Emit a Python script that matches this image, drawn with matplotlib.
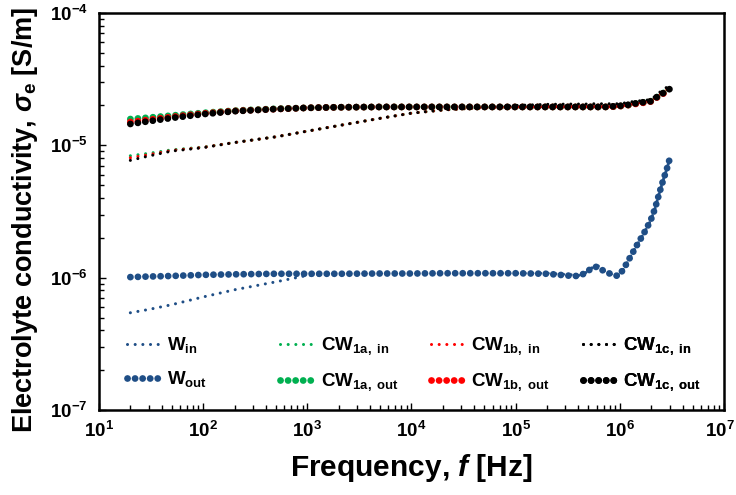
import numpy as np
import matplotlib
matplotlib.use("Agg")
import matplotlib.pyplot as plt
from matplotlib.ticker import LogLocator, FuncFormatter, NullFormatter, FixedLocator

plt.rcParams["font.family"] = ["Liberation Sans", "DejaVu Sans"]
plt.rcParams["font.weight"] = "bold"
plt.rcParams["mathtext.fontset"] = "custom"
plt.rcParams["mathtext.rm"] = "Liberation Sans:bold"
plt.rcParams["mathtext.bf"] = "Liberation Sans:bold"
plt.rcParams["mathtext.it"] = "Liberation Sans:bold:italic"

# Frequency sweep points [Hz]
freq_hz = [20, 30, 50, 100, 200, 500, 1e3, 2e3, 5e3, 1e4, 2e4, 5e4, 1e5, 2e5,
           3.5e5, 4.1e5, 4.8e5, 5.35e5, 6e5, 7.2e5, 8.6e5, 9.6e5, 1.07e6,
           1.24e6, 1.44e6, 1.70e6, 1.97e6, 2.18e6, 2.38e6, 2.61e6, 2.87e6, 3.0e6]

# Electrolyte conductivity, W samples [1e-6 S/m]
w_in = [0.543, 0.575, 0.625, 0.715, 0.81, 0.93, 1.04, 1.06, 1.07, 1.075, 1.08, 1.08,
        1.08, 1.08, 1.05, 1.04, 1.10, 1.18, 1.25, 1.12, 1.05, 1.03, 1.14,
        1.40, 1.73, 2.16, 2.69, 3.34, 4.29, 5.47, 6.89, 7.83]
w_out = [1.01, 1.02, 1.03, 1.05, 1.06, 1.07, 1.07, 1.07, 1.075, 1.075, 1.08, 1.08,
         1.08, 1.07, 1.03, 1.03, 1.10, 1.18, 1.21, 1.11, 1.05, 1.03, 1.14,
         1.40, 1.73, 2.16, 2.69, 3.34, 4.29, 5.47, 6.89, 7.83]

# Electrolyte conductivity, CW samples [1e-5 S/m]
cw1a_in = [0.834, 0.87, 0.925, 0.97, 1.05, 1.16, 1.28, 1.41, 1.60, 1.75, 1.85, 1.93,
           1.95, 1.96, 1.96, 1.96, 1.96, 1.96, 1.96, 1.96, 1.96, 1.97, 1.99,
           2.03, 2.08, 2.12, 2.16, 2.28, 2.42, 2.52, 2.66, 2.72]
cw1b_in = [0.805, 0.85, 0.915, 0.965, 1.05, 1.16, 1.28, 1.41, 1.60, 1.75, 1.85, 1.93,
           1.95, 1.96, 1.96, 1.96, 1.96, 1.96, 1.96, 1.96, 1.96, 1.97, 1.99,
           2.03, 2.08, 2.12, 2.16, 2.28, 2.42, 2.52, 2.66, 2.72]
cw1c_in = [0.77, 0.83, 0.905, 0.96, 1.05, 1.16, 1.28, 1.41, 1.60, 1.75, 1.85, 1.94,
           2.00, 2.04, 2.05, 2.05, 2.05, 2.06, 2.06, 2.06, 2.06, 2.06, 2.08,
           2.12, 2.16, 2.18, 2.22, 2.34, 2.50, 2.62, 2.78, 2.86]
cw1a_out = [1.58, 1.62, 1.68, 1.76, 1.83, 1.89, 1.92, 1.94, 1.95, 1.95, 1.95, 1.95,
            1.95, 1.95, 1.95, 1.95, 1.95, 1.95, 1.95, 1.95, 1.96, 1.97, 1.99,
            2.02, 2.07, 2.11, 2.15, 2.25, 2.38, 2.48, 2.62, 2.68]
cw1b_out = [1.50, 1.56, 1.64, 1.74, 1.82, 1.88, 1.92, 1.94, 1.95, 1.95, 1.95, 1.95,
            1.95, 1.95, 1.95, 1.95, 1.95, 1.95, 1.95, 1.95, 1.96, 1.97, 1.99,
            2.02, 2.06, 2.10, 2.14, 2.24, 2.37, 2.46, 2.58, 2.64]
cw1c_out = [1.45, 1.52, 1.61, 1.72, 1.81, 1.88, 1.92, 1.94, 1.95, 1.95, 1.95, 1.95,
            1.95, 1.95, 1.95, 1.95, 1.95, 1.95, 1.95, 1.95, 1.97, 1.98, 2.00,
            2.03, 2.08, 2.12, 2.15, 2.26, 2.39, 2.48, 2.60, 2.66]

# Axis decades
x_decades = [1e1, 1e2, 1e3, 1e4, 1e5, 1e6, 1e7]
y_decades = [1e-7, 1e-6, 1e-5, 1e-4]

series = [
    (r"W$_{\mathbf{in}}$", w_in, 1e-6, "#1F4E86", "in"),
    (r"W$_{\mathbf{out}}$", w_out, 1e-6, "#1F4E86", "out"),
    (r"CW$_{\mathbf{1a,\ in}}$", cw1a_in, 1e-5, "#00B050", "in"),
    (r"CW$_{\mathbf{1a,\ out}}$", cw1a_out, 1e-5, "#00B050", "out"),
    (r"CW$_{\mathbf{1b,\ in}}$", cw1b_in, 1e-5, "#FF0000", "in"),
    (r"CW$_{\mathbf{1b,\ out}}$", cw1b_out, 1e-5, "#FF0000", "out"),
    (r"CW$_{\mathbf{1c,\ in}}$", cw1c_in, 1e-5, "#000000", "in"),
    (r"CW$_{\mathbf{1c,\ out}}$", cw1c_out, 1e-5, "#000000", "out"),
]

# round-dot line styles (width in points, dash pattern in line widths)
styles = {
    "in": dict(linewidth=2.2, dashes=(0.01, 2.5)),
    "out": dict(linewidth=4.9, dashes=(0.01, 1.1)),
}

LABEL_SIZE = 13.5

fig = plt.figure(figsize=(7.36, 4.95), dpi=100)
ax = fig.add_axes([99 / 736, 85 / 495, 625 / 736, 397 / 495])

handles = []
for label, vals, scale, color, kind in series:
    (ln,) = ax.plot(freq_hz, np.array(vals) * scale, color=color,
                    dash_capstyle="round", solid_capstyle="round",
                    label=label, **styles[kind])
    handles.append(ln)

ax.set_xscale("log")
ax.set_yscale("log")
ax.set_xlim(x_decades[0], x_decades[-1])
ax.set_ylim(y_decades[0], y_decades[-1])


def decade_label(v, pos=None):
    return r"$\mathbf{10^{%d}}$" % int(round(np.log10(v)))


def freq_label(v, pos=None):
    # the right-most decade is written separately, kept inside the figure
    if np.isclose(v, x_decades[-1]):
        return ""
    return decade_label(v, pos)


ax.xaxis.set_major_locator(FixedLocator(x_decades))
ax.yaxis.set_major_locator(FixedLocator(y_decades))
ax.xaxis.set_minor_locator(LogLocator(base=10, subs=np.arange(2, 10), numticks=10))
ax.yaxis.set_minor_locator(LogLocator(base=10, subs=np.arange(2, 10), numticks=10))
ax.xaxis.set_major_formatter(FuncFormatter(freq_label))
ax.yaxis.set_major_formatter(FuncFormatter(decade_label))
ax.xaxis.set_minor_formatter(NullFormatter())
ax.yaxis.set_minor_formatter(NullFormatter())

ax.tick_params(which="both", direction="in", top=False, right=False,
               labelsize=LABEL_SIZE, width=1.0)
ax.tick_params(which="major", length=5, pad=8)
ax.tick_params(which="minor", length=3.5)
for sp in ax.spines.values():
    sp.set_linewidth(1.8)

ax.annotate(decade_label(x_decades[-1]), xy=(1, 0), xycoords="axes fraction",
            xytext=(8, -8), textcoords="offset points", ha="right", va="top",
            fontsize=LABEL_SIZE)

ax.set_xlabel(r"Frequency, $\mathit{f}$ [Hz]", fontsize=21.5, fontweight="bold",
              labelpad=8)
ax.set_ylabel(r"Electrolyte conductivity, $\sigma_{\mathbf{e}}$ [S/m]",
              fontsize=19.5, fontweight="bold")
ax.yaxis.set_label_coords(-0.095, 0.478)

# legend: four columns of (in, out) pairs
col_x = [0.045, 0.29, 0.531, 0.774]
for i, x in enumerate(col_x):
    pair = handles[2 * i:2 * i + 2]
    leg = ax.legend(pair, [h.get_label() for h in pair],
                    loc="upper left", bbox_to_anchor=(x, 0.188), frameon=False,
                    fontsize=13.5, handlelength=1.7, handletextpad=0.45,
                    labelspacing=0.75, borderpad=0, borderaxespad=0)
    ax.add_artist(leg)

fig.savefig("out.png", dpi=100)
